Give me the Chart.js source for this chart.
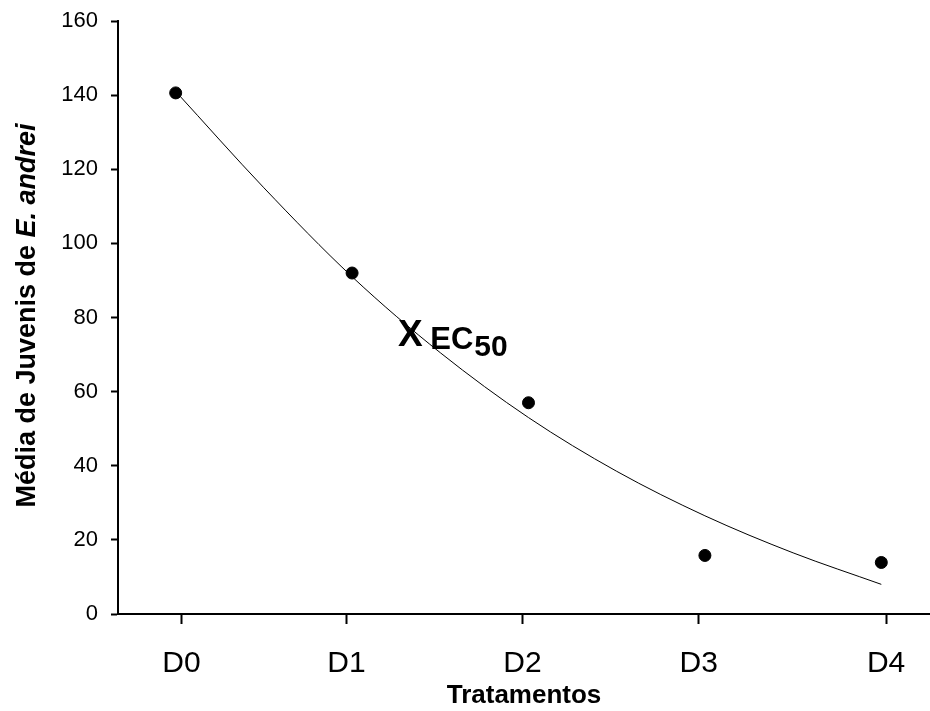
<!DOCTYPE html>
<html>
<head>
<meta charset="utf-8">
<script src="https://cdn.jsdelivr.net/npm/chart.js@4.4.1/dist/chart.umd.min.js"></script>
<style>
  html, body { margin: 0; padding: 0; background: #fff; }
  #wrap { width: 930px; height: 711px; }
</style>
</head>
<body>
<div id="wrap"><canvas id="grafica" width="930" height="711"></canvas></div>
<script>
// ===============================
// DATOS
// ===============================
const tratamentos = ["D0", "D1", "D2", "D3", "D4"];
const tickPos = [0.033, 0.968, 1.966, 2.965, 4.027];   // onde ficam as marcas do eixo X
const mediaJuvenis = [140.6, 92, 57, 15.8, 13.9];
const curvaX = [0, 0.5, 1, 1.5, 2, 2.5, 3, 3.5, 4];
const curvaY = [141, 115, 91, 70.5, 53, 38.5, 26.5, 16.5, 8];
const yTicks = [0, 20, 40, 60, 80, 100, 120, 140, 160];
const ec50 = { x: 1.33, y: 76 };

const ctx = document.getElementById("grafica").getContext("2d");
const FONTE = "'Liberation Sans', Arial, sans-serif";

// ===============================
// TEXTOS EXTRA (título Y e EC50)
// ===============================
const textos = {
  id: "textos",
  afterDraw(chart) {
    const c = chart.ctx;
    const area = chart.chartArea;
    const sx = chart.scales.x, sy = chart.scales.y;
    c.save();
    c.fillStyle = "#000";

    // título do eixo Y com parte em itálico
    const partes = [
      { t: "Média de Juvenis de ", f: "bold 27px " + FONTE },
      { t: "E. andrei", f: "italic bold 27px " + FONTE }
    ];
    let total = 0;
    partes.forEach(p => { c.font = p.f; p.w = c.measureText(p.t).width; total += p.w; });
    c.translate(35, (area.top + area.bottom) / 2 - 2);
    c.rotate(-Math.PI / 2);
    c.textBaseline = "alphabetic";
    let pos = -total / 2;
    partes.forEach(p => { c.font = p.f; c.fillText(p.t, pos, 0); pos += p.w; });
    c.restore();

    // marca do EC50
    const px = sx.getPixelForValue(ec50.x);
    const py = sy.getPixelForValue(ec50.y);
    c.save();
    c.fillStyle = "#000";
    c.textBaseline = "alphabetic";
    c.textAlign = "center";
    c.font = "bold 37px " + FONTE;
    c.fillText("X", px, py + 14);
    c.textAlign = "left";
    c.font = "bold 31px " + FONTE;
    c.fillText("EC", px + 20, py + 17);
    const wEC = c.measureText("EC").width;
    c.font = "bold 30px " + FONTE;
    c.fillText("50", px + 21 + wEC, py + 24);
    c.restore();
  }
};

new Chart(ctx, {
  type: "scatter",
  data: {
    datasets: [
      {
        label: "curva",
        data: curvaX.map((x, i) => ({ x, y: curvaY[i] })),
        showLine: true,
        borderColor: "#000",
        borderWidth: 1,
        pointRadius: 0,
        cubicInterpolationMode: "monotone",
        order: 2
      },
      {
        label: "média",
        data: mediaJuvenis.map((y, i) => ({ x: i, y })),
        backgroundColor: "#000",
        borderColor: "#000",
        pointRadius: 6,
        pointStyle: "circle",
        order: 1
      }
    ]
  },
  options: {
    responsive: false,
    animation: false,
    layout: { autoPadding: false, padding: { top: 21, right: 0, left: 0, bottom: 0 } },
    plugins: {
      legend: { display: false },
      tooltip: { enabled: false }
    },
    scales: {
      x: {
        type: "linear",
        min: -0.327,
        max: 4.276,
        afterBuildTicks: s => { s.ticks = tickPos.map(v => ({ value: v })); },
        afterFit: s => { s.height = 97; s.paddingLeft = 0; s.paddingRight = 0; },
        ticks: {
          color: "#000",
          font: { family: FONTE, size: 30 },
          padding: 22,
          autoSkip: false,
          maxRotation: 0,
          callback: (v, i) => tratamentos[i]
        },
        grid: {
          drawOnChartArea: false,
          drawTicks: true,
          tickLength: 10,
          tickWidth: 2,
          tickColor: "#000"
        },
        border: { display: true, color: "#000", width: 2 },
        title: {
          display: true,
          text: "Tratamentos",
          color: "#000",
          font: { family: FONTE, size: 26, weight: "bold" },
          padding: { top: 0, bottom: 0 }
        }
      },
      y: {
        min: 0,
        max: 160,
        afterBuildTicks: s => { s.ticks = yTicks.map(v => ({ value: v })); },
        afterFit: s => { s.width = 118; s.paddingTop = 0; s.paddingBottom = 0; },
        ticks: {
          color: "#000",
          font: { family: FONTE, size: 22 },
          padding: 13
        },
        grid: {
          drawOnChartArea: false,
          drawTicks: true,
          tickLength: 7,
          tickWidth: 2,
          tickColor: "#000"
        },
        border: { display: true, color: "#000", width: 2 }
      }
    }
  },
  plugins: [textos]
});
</script>
</body>
</html>
